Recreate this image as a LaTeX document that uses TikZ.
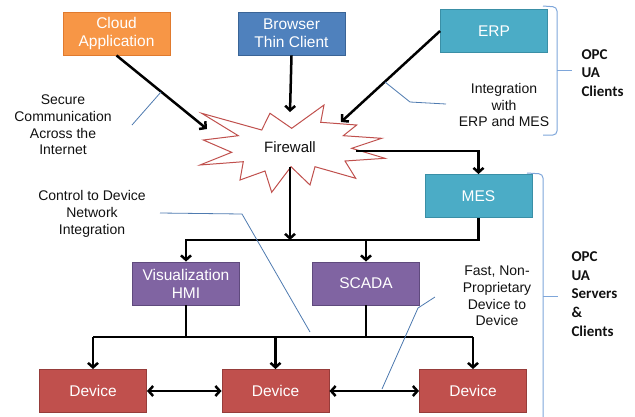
\documentclass[tikz,border=0pt]{standalone}
\usepackage{fontspec}
\setmainfont{Liberation Sans}
\newfontfamily\opcfont{Carlito}
\usetikzlibrary{arrows, arrows.meta}

\definecolor{cloudfill}{HTML}{F79646}
\definecolor{cloudline}{HTML}{E07A2E}
\definecolor{thinfill}{HTML}{4F81BD}
\definecolor{thinline}{HTML}{3A6496}
\definecolor{erpfill}{HTML}{4BACC6}
\definecolor{erpline}{HTML}{3A8FA6}
\definecolor{hmifill}{HTML}{8064A2}
\definecolor{hmiline}{HTML}{5F4A7D}
\definecolor{devfill}{HTML}{C0504D}
\definecolor{devline}{HTML}{963C3A}
\definecolor{callblue}{HTML}{4F7BB0}
\definecolor{bracewire}{HTML}{7EA6DA}
\definecolor{labeltext}{HTML}{111111}

\begin{document}
\begin{tikzpicture}[x=1pt,y=-1pt,
    >={Straight Barb[length=4.5pt,width=10pt]},
    box/.style={draw, line width=0.9pt, minimum width=107pt, minimum height=43pt,
      inner sep=0pt, align=center, text=white, font=\fontsize{15.5}{18}\selectfont},
    arr/.style={->, line width=2.5pt},
    wire/.style={line width=2.5pt},
    callout/.style={draw=callblue, line width=0.8pt},
    brace/.style={draw=bracewire, line width=1pt, rounded corners=4pt},
    lbl/.style={draw=none, align=center, text=labeltext, font=\fontsize{14}{16.7}\selectfont},
    opc/.style={draw=none, align=left, anchor=west, text=labeltext, font=\opcfont\bfseries\fontsize{15}{18.7}\selectfont}]
    \useasboundingbox (0,0) rectangle (635,416);

    \node[box, fill=cloudfill, draw=cloudline] (cloud) at (116.5,33.5) {Cloud\\Application};
    \node[box, fill=thinfill, draw=thinline] (browser) at (291.5,33.5) {Browser\\Thin Client};
    \node[box, fill=erpfill, draw=erpline] (erp) at (494,31) {ERP};
    \node[box, fill=erpfill, draw=erpline] (mes) at (478.5,196) {MES};
    \node[box, fill=hmifill, draw=hmiline] (hmi) at (186,283.5) {Visualization\\HMI};
    \node[box, fill=hmifill, draw=hmiline] (scada) at (366,283.5) {SCADA};
    \node[box, fill=devfill, draw=devline] (dev1) at (93,391) {Device};
    \node[box, fill=devfill, draw=devline] (dev2) at (275.5,391) {Device};
    \node[box, fill=devfill, draw=devline] (dev3) at (473,391) {Device};

    \draw[devfill, line width=1pt, fill=white] (201.7,113.3) -- (261.7,130) -- (270,113.3)
      -- (291.7,128.3) -- (324,105) -- (320.7,122.3) -- (356.7,125) -- (343.3,135.7)
      -- (381.7,138.3) -- (351.7,148.3) -- (385,158.3) -- (345,161) -- (355.7,178.3)
      -- (315,166.7) -- (310,185) -- (291,166.7) -- (271.7,192.3) -- (265,171)
      -- (240,180) -- (243.3,161.7) -- (200,165) -- (231.7,152.3) -- (203.3,140)
      -- (238.3,135.7) -- cycle;
    \node[lbl, font=\fontsize{15}{18}\selectfont] (fw) at (290,147) {Firewall};
    \coordinate (fwN) at (290,112);
    \coordinate (fwW) at (207,129);
    \coordinate (fwNE) at (341,122);
    \coordinate (fwE) at (356,151);
    \coordinate (fwS) at (290,167);

    \coordinate (bus1) at (186,240);
    \coordinate (bus2l) at (93,337);
    \coordinate (bus2r) at (473,337);

    \draw[arr] (cloud.south) -- (fwW);
    \draw[arr] (browser.south) -- (fwN);
    \draw[arr] (erp.west) -- (fwNE);
    \draw[arr] (fwE) -| (mes.north);
    \draw[arr] (fwS) -- (fwS |- bus1);
    \draw[arr] (mes.south) |- (bus1) -- (hmi.north);
    \draw[arr] (scada.north |- bus1) -- (scada.north);
    \draw[wire] (hmi.south) -- (hmi.south |- bus2l);
    \draw[wire] (scada.south) -- (scada.south |- bus2l);
    \draw[wire] (bus2l) -- (bus2r);
    \draw[arr] (bus2l) -- (dev1.north);
    \draw[arr] (dev2.north |- bus2l) -- (dev2.north);
    \draw[arr] (bus2r) -- (dev3.north);
    \draw[arr, <->] (dev1) -- (dev2);
    \draw[arr, <->] (dev2) -- (dev3);

    \node[lbl] (secure) at (63,125) {Secure\\Communication\\Across the\\Internet};
    \node[lbl] (integ) at (504,105) {Integration\\with\\ERP and MES};
    \node[lbl] (control) at (92,214) {Control to Device\\Network\\Integration};
    \node[lbl] (fast) at (497,296) {Fast, Non-\\Proprietary\\Device to\\Device};
    \node[opc] (clients) at (578,73) {OPC\\UA\\Clients};
    \node[opc] (servers) at (568,294) {OPC\\UA\\Servers\\\&\\Clients};

    \path[callout] (132,125) -- (161,92);
    \path[callout] (385,82) -- (410,102) -- (446,104);
    \path[callout] (160,213) -- (242,214) -- (310,332);
    \path[callout] (435,297) -- (418,308) -- (382,389);

    \path[brace] (543,6) -- (557,7) -- (557,135) -- (543,135);
    \draw[bracewire, line width=1pt] (557,70) -- (572,70);
    \path[brace] (527,173) -- (543,174) -- (543,430);
    \draw[bracewire, line width=1pt] (543,296) -- (558,296);
\end{tikzpicture}
\end{document}
